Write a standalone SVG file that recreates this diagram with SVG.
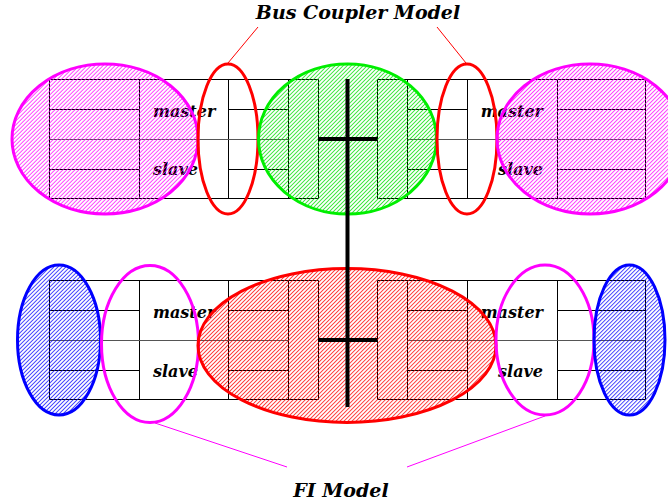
<svg xmlns="http://www.w3.org/2000/svg" xmlns:xlink="http://www.w3.org/1999/xlink" width="668" height="504" viewBox="0 0 668 504">
<style>
.g{stroke:#000000;stroke-width:1;fill:none}
.m{stroke:#555555;stroke-width:1;fill:none}
.t{font-family:"DejaVu Serif",serif;font-weight:bold;font-style:italic;fill:#000000}
.lbl{font-size:16px}
.ttl{font-size:19px}
.thick{stroke:#000000;stroke-width:4;fill:none}
</style>
<defs>
<pattern id="hm" patternUnits="userSpaceOnUse" width="2.83" height="4" patternTransform="rotate(45)"><rect x="0" y="0" width="0.7" height="4" fill="#ff00ff"/></pattern>
<pattern id="hg" patternUnits="userSpaceOnUse" width="2.83" height="4" patternTransform="rotate(45)"><rect x="0" y="0" width="0.7" height="4" fill="#00e000"/></pattern>
<pattern id="hr" patternUnits="userSpaceOnUse" width="2.83" height="4" patternTransform="rotate(45)"><rect x="0" y="0" width="0.7" height="4" fill="#ff0000"/></pattern>
<pattern id="hb" patternUnits="userSpaceOnUse" width="2.83" height="4" patternTransform="rotate(45)"><rect x="0" y="0" width="0.7" height="4" fill="#0000ff"/></pattern>
<g id="grid">
<path class="g" d="M49.5,79.5H318.5M49.5,198.5H318.5M377.5,79.5H645.5M377.5,198.5H645.5"/>
<path class="g" d="M49.5,79.5V198.5M139.5,79.5V198.5M228.5,79.5V198.5M288.5,79.5V198.5M318.5,79.5V198.5M377.5,79.5V198.5M407.5,79.5V198.5M467.5,79.5V198.5M557.5,79.5V198.5M645.5,79.5V198.5"/>
<path class="g" d="M49.5,109.5H139.5M228.5,109.5H288.5M407.5,109.5H467.5M557.5,109.5H645.5M49.5,169.5H139.5M228.5,169.5H288.5M407.5,169.5H467.5M557.5,169.5H645.5"/>
<path class="m" d="M49.5,139.5H288.5M407.5,139.5H645.5"/>
</g>
</defs>
<g id="top-block">
<use xlink:href="#grid"/>
<text class="t lbl" x="153" y="117">master</text>
<text class="t lbl" x="153" y="175">slave</text>
<text class="t lbl" x="543" y="117" text-anchor="end">master</text>
<text class="t lbl" x="543" y="175" text-anchor="end">slave</text>
</g>
<g id="bottom-block">
<use xlink:href="#grid" transform="translate(0,201)"/>
<text class="t lbl" x="153" y="318">master</text>
<text class="t lbl" x="153" y="377">slave</text>
<text class="t lbl" x="543" y="318" text-anchor="end">master</text>
<text class="t lbl" x="543" y="377" text-anchor="end">slave</text>
</g>
<g id="top-left-magenta"><ellipse cx="105" cy="139" rx="93" ry="75" fill="url(#hm)" stroke="#ff00ff" stroke-width="3"/></g>
<g id="top-left-red"><ellipse cx="228" cy="139" rx="30" ry="75" fill="none" stroke="#ff0000" stroke-width="3"/></g>
<g id="top-green"><ellipse cx="347.5" cy="139" rx="89" ry="75" fill="url(#hg)" stroke="#00ee00" stroke-width="3"/></g>
<g id="top-right-red"><ellipse cx="467" cy="139" rx="30" ry="75" fill="none" stroke="#ff0000" stroke-width="3"/></g>
<g id="top-right-magenta"><ellipse cx="590" cy="139" rx="93" ry="75" fill="url(#hm)" stroke="#ff00ff" stroke-width="3"/></g>
<g id="bottom-left-blue"><ellipse cx="59" cy="340" rx="41.5" ry="75" fill="url(#hb)" stroke="#0000ff" stroke-width="3"/></g>
<g id="bottom-left-magenta"><ellipse cx="150" cy="344" rx="48.5" ry="78.5" fill="none" stroke="#ff00ff" stroke-width="3"/></g>
<g id="bottom-red"><ellipse cx="347" cy="345.5" rx="149" ry="77" fill="url(#hr)" stroke="#ff0000" stroke-width="3"/></g>
<g id="bottom-right-magenta"><ellipse cx="545" cy="340" rx="49" ry="75" fill="none" stroke="#ff00ff" stroke-width="3"/></g>
<g id="bottom-right-blue"><ellipse cx="629.5" cy="340" rx="35.5" ry="75" fill="url(#hb)" stroke="#0000ff" stroke-width="3"/></g>
<g id="bus">
<path class="thick" d="M347.5,79V407M318,139H377M318,340H377"/>
</g>
<g id="connectors">
<path d="M258,27L228,63M437,27L466,63" stroke="#ff0000" stroke-width="1" fill="none"/>
<path d="M155,423L287,467M545,416L407,467" stroke="#ff00ff" stroke-width="1" fill="none"/>
</g>
<g id="label-bus-coupler"><text class="t ttl" x="358" y="19" text-anchor="middle">Bus Coupler Model</text></g>
<g id="label-fi"><text class="t ttl" x="341" y="497" text-anchor="middle">FI Model</text></g>
</svg>
